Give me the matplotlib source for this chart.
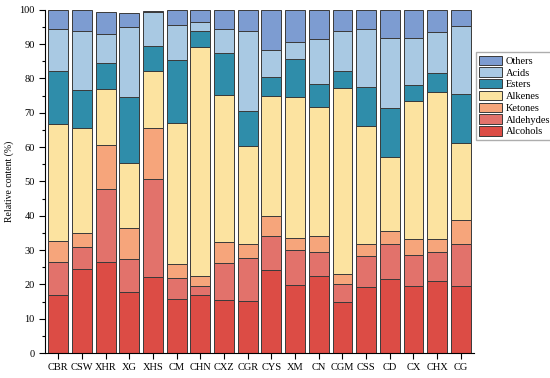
import matplotlib.pyplot as plt
import numpy as np

# Samples
samples = ["CBR", "CSW", "XHR", "XG", "XHS", "CM", "CHN", "CXZ", "CGR",
           "CYS", "XM", "CN", "CGM", "CSS", "CD", "CX", "CHX", "CG"]

# Cumulative tops (%), bottom to top
alcohols_top  = [16.9, 24.5, 26.4, 17.7, 22.2, 15.8, 17.0, 15.6, 15.2, 24.1, 19.8, 22.4, 15.0, 19.1, 21.5, 19.6, 21.1, 19.6]
aldehydes_top = [26.6, 31.0, 47.9, 27.4, 50.6, 21.8, 19.6, 26.1, 27.8, 34.1, 29.9, 29.3, 20.1, 28.3, 31.9, 28.7, 29.5, 31.9]
ketones_top   = [32.6, 35.1, 60.5, 36.4, 65.5, 25.9, 22.4, 32.4, 31.8, 39.9, 33.5, 34.1, 23.0, 31.7, 35.6, 33.3, 33.1, 38.7]
alkenes_top   = [66.7, 65.5, 76.9, 55.3, 82.3, 66.9, 89.2, 75.2, 60.3, 74.8, 74.5, 71.7, 77.1, 66.1, 57.2, 73.5, 76.2, 61.1]
esters_top    = [82.2, 76.6, 84.4, 74.5, 89.5, 85.5, 93.9, 87.5, 70.6, 80.5, 85.8, 78.3, 82.2, 77.4, 71.3, 78.0, 81.5, 75.4]
acids_top     = [94.4, 93.7, 93.1, 95.0, 99.3, 95.6, 96.4, 94.5, 93.7, 88.3, 90.7, 91.4, 93.7, 94.5, 91.7, 91.9, 93.4, 95.2]
others_top    = [100, 100, 99.3, 99.1, 99.7, 100, 100, 100, 100, 100, 100, 100, 100, 100, 100, 100, 100, 100]

tops = [alcohols_top, aldehydes_top, ketones_top, alkenes_top, esters_top, acids_top, others_top]
names = ["Alcohols", "Aldehydes", "Ketones", "Alkenes", "Esters", "Acids", "Others"]
colors = ["#dc4c45", "#e2726b", "#f6a57b", "#fce3a0", "#2f8daa", "#a9c9e3", "#7d9cd1"]

plt.rcParams['font.family'] = ['Liberation Serif', 'DejaVu Serif']

fig = plt.figure(figsize=(5.5, 3.78), dpi=100)
ax = fig.add_axes([0.082, 0.066, 0.78, 0.908])

x = np.arange(len(samples))
bottom = np.zeros(len(samples))
handles = []
for name, top, col in zip(names, tops, colors):
    top = np.array(top)
    h = ax.bar(x, top - bottom, bottom=bottom, width=0.84, color=col,
               edgecolor="#3a3a3a", linewidth=0.7, label=name)
    handles.append(h)
    bottom = top

ax.set_xlim(-0.56, 17.56)
ax.set_ylim(0, 100)
ax.set_xticks(x)
ax.set_xticklabels(samples, fontsize=7.5)
ax.set_yticks(np.arange(0, 101, 10))
ax.set_yticks(np.arange(0, 101, 5), minor=True)
ax.tick_params(axis='y', labelsize=7.5, length=4, width=0.8)
ax.tick_params(axis='y', which='minor', length=2.5, width=0.8)
ax.tick_params(axis='x', length=4, width=0.8)
ax.set_ylabel("Relative content (%)", fontsize=7)
ax.spines['top'].set_visible(False)
ax.spines['right'].set_visible(False)

leg = ax.legend(handles[::-1], names[::-1], loc='upper left',
                bbox_to_anchor=(1.005, 0.876), fontsize=7.5, frameon=True,
                fancybox=False, edgecolor="#999999", borderpad=0.3,
                labelspacing=0.15, handlelength=2.2, handleheight=1.0,
                handletextpad=0.3, borderaxespad=0)

fig.savefig("out.png", dpi=100)
